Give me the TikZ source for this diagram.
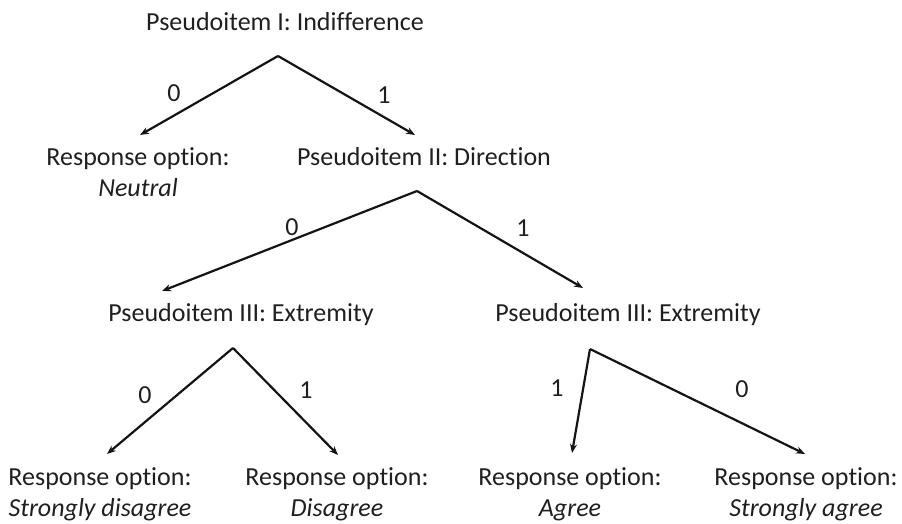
\documentclass[tikz,border=0pt]{standalone}
\usepackage{fontspec}
\setmainfont{Carlito}[Ligatures=NoCommon]
\usetikzlibrary{arrows.meta}
\begin{document}
\begin{tikzpicture}[x=1pt,y=-1pt,
  txt/.style={inner sep=0pt, font=\fontsize{26}{31}\selectfont, align=center, text=black!88},
  lbl/.style={inner sep=0pt, font=\fontsize{26}{31}\selectfont, text=black!88},
  arr/.style={line width=2.2pt, -{Stealth[length=9pt,width=7pt]}, black!92}]
\useasboundingbox (0,0) rectangle (902,524);
% nodes
\node[txt] (p1) at (285,22) {Pseudoitem I: Indifference};
\node[txt] (neutral) at (138,172) {Response option:\\\textit{Neutral}};
\node[txt] (p2) at (424,157) {Pseudoitem II: Direction};
\node[txt] (p3l) at (241,315) {Pseudoitem III: Extremity};
\node[txt] (p3r) at (628,315) {Pseudoitem III: Extremity};
\node[txt] (sd) at (100,494) {Response option:\\\textit{Strongly disagree}};
\node[txt] (d) at (337,494) {Response option:\\\textit{Disagree}};
\node[txt] (a) at (570,494) {Response option:\\\textit{Agree}};
\node[txt] (sa) at (806,494) {Response option:\\\textit{Strongly agree}};
% apexes and arrow ends
\coordinate (a1) at (278,56);
\coordinate (e1l) at (140,135);
\coordinate (e1r) at (415,135);
\coordinate (a2) at (417,191);
\coordinate (e2l) at (162,291);
\coordinate (e2r) at (583,288);
\coordinate (a3l) at (233,348);
\coordinate (e3l) at (107,454);
\coordinate (e3r) at (338,455);
\coordinate (a3r) at (590,349);
\coordinate (e4l) at (572,453);
\coordinate (e4r) at (805,454);
% connectors
\draw[arr] (a1) -- (e1l);
\draw[arr] (a1) -- (e1r);
\draw[arr] (a2) -- (e2l);
\draw[arr] (a2) -- (e2r);
\draw[arr] (a3l) -- (e3l);
\draw[arr] (a3l) -- (e3r);
\draw[arr] (a3r) -- (e4l);
\draw[arr] (a3r) -- (e4r);
% labels
\node[lbl] (l1) at (174,93) {0};
\node[lbl] (l2) at (384,95) {1};
\node[lbl] (l3) at (292,227) {0};
\node[lbl] (l4) at (523,228) {1};
\node[lbl] (l5) at (145,395) {0};
\node[lbl] (l6) at (306,390) {1};
\node[lbl] (l7) at (557,388) {1};
\node[lbl] (l8) at (742,389) {0};
\end{tikzpicture}
\end{document}
